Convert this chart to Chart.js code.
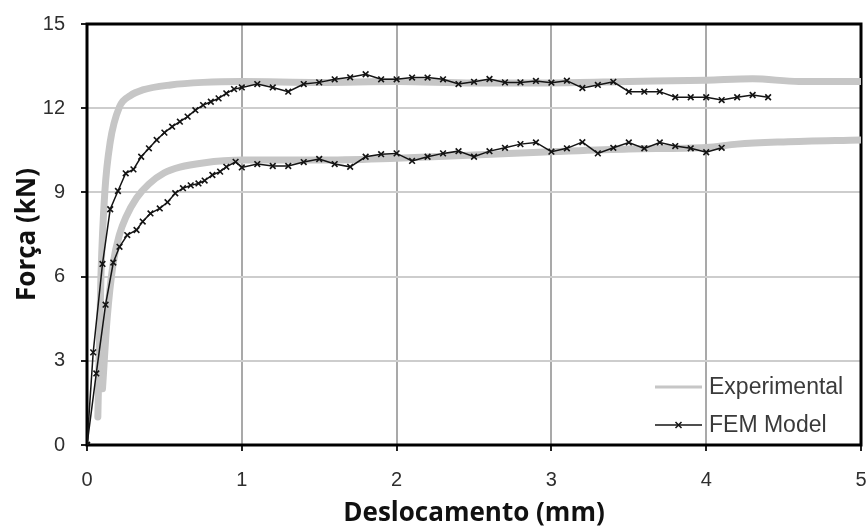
<!DOCTYPE html>
<html>
<head>
<meta charset="utf-8">
<script src="https://cdn.jsdelivr.net/npm/chart.js@4/dist/chart.umd.min.js"></script>
<style>
  html, body { margin: 0; padding: 0; background: #ffffff; }
  #wrap { width: 867px; height: 529px; }
</style>
</head>
<body>
<div id="wrap"><canvas id="c" width="867" height="529"></canvas></div>
<script>
// ---- data ----
const xTicks = [0, 1, 2, 3, 4, 5];
const yTicks = [0, 3, 6, 9, 12, 15];

const femUpperX = [0, 0.04, 0.10, 0.15, 0.20, 0.25, 0.30, 0.35, 0.40, 0.45, 0.50, 0.55, 0.60, 0.65, 0.70, 0.75, 0.80, 0.85, 0.90, 0.95, 1.00,
  1.10, 1.20, 1.30, 1.40, 1.50, 1.60, 1.70, 1.80, 1.90, 2.00, 2.10, 2.20, 2.30, 2.40, 2.50, 2.60, 2.70, 2.80, 2.90, 3.00,
  3.10, 3.20, 3.30, 3.40, 3.50, 3.60, 3.70, 3.80, 3.90, 4.00, 4.10, 4.20, 4.30, 4.40];
const femUpperY = [0, 3.30, 6.45, 8.40, 9.05, 9.68, 9.82, 10.27, 10.57, 10.87, 11.13, 11.34, 11.52, 11.70, 11.93, 12.11, 12.23, 12.35, 12.53, 12.68, 12.74,
  12.86, 12.74, 12.59, 12.86, 12.92, 13.03, 13.10, 13.21, 13.03, 13.03, 13.09, 13.09, 13.03, 12.86, 12.94, 13.04, 12.92, 12.92, 12.97, 12.91,
  12.98, 12.72, 12.83, 12.94, 12.59, 12.59, 12.59, 12.39, 12.39, 12.39, 12.29, 12.39, 12.47, 12.39];

const femLowerX = [0, 0.06, 0.12, 0.17, 0.21, 0.26, 0.32, 0.36, 0.41, 0.47, 0.52, 0.57, 0.62, 0.67, 0.72, 0.76, 0.81, 0.86, 0.90, 0.96, 1.00,
  1.10, 1.20, 1.30, 1.40, 1.50, 1.60, 1.70, 1.80, 1.90, 2.00, 2.10, 2.20, 2.30, 2.40, 2.50, 2.60, 2.70, 2.80, 2.90, 3.00,
  3.10, 3.20, 3.30, 3.40, 3.50, 3.60, 3.70, 3.80, 3.90, 4.00, 4.10];
const femLowerY = [0, 2.55, 5.00, 6.50, 7.06, 7.48, 7.66, 7.96, 8.25, 8.43, 8.65, 8.97, 9.15, 9.25, 9.32, 9.42, 9.62, 9.74, 9.91, 10.09, 9.89,
  10.01, 9.94, 9.94, 10.08, 10.19, 10.01, 9.91, 10.27, 10.36, 10.39, 10.12, 10.27, 10.39, 10.47, 10.27, 10.47, 10.59, 10.72, 10.78, 10.45,
  10.57, 10.79, 10.39, 10.59, 10.78, 10.57, 10.78, 10.65, 10.57, 10.43, 10.59];

const expUpperX = [0.07, 0.09, 0.115, 0.15, 0.21, 0.28, 0.36, 0.54, 0.75, 1.00, 1.50, 2.00, 2.50, 3.00, 3.50, 4.00, 4.30, 4.60, 5.00];
const expUpperY = [1.0, 6.0, 9.0, 10.8, 12.05, 12.45, 12.65, 12.83, 12.92, 12.95, 12.92, 12.95, 12.9, 12.9, 12.95, 13.0, 13.05, 12.95, 12.95];

const expLowerX = [0.10, 0.13, 0.17, 0.21, 0.25, 0.32, 0.40, 0.50, 0.60, 0.75, 1.00, 1.50, 2.00, 2.50, 3.00, 3.50, 4.00, 4.20, 4.50, 5.00];
const expLowerY = [2.0, 4.5, 6.5, 7.5, 8.1, 8.8, 9.3, 9.7, 9.9, 10.05, 10.15, 10.15, 10.22, 10.33, 10.45, 10.55, 10.6, 10.72, 10.8, 10.87];

const seriesLabels = ['Experimental', 'FEM Model'];

function pts(xs, ys) { return xs.map((x, i) => ({ x: x, y: ys[i] })); }

const EXP_COLOR = '#c6c6c6';
const FEM_COLOR = '#141414';

const expStyle = {
  label: seriesLabels[0], borderColor: EXP_COLOR, backgroundColor: EXP_COLOR,
  borderWidth: 7, pointRadius: 0, tension: 0.4, cubicInterpolationMode: 'monotone',
  fill: false, order: 2, borderCapStyle: 'round', borderJoinStyle: 'round'
};
const femStyle = {
  label: seriesLabels[1], borderColor: FEM_COLOR, backgroundColor: FEM_COLOR,
  borderWidth: 1.5, pointStyle: 'crossRot', pointRadius: 4, pointBorderWidth: 1.6,
  pointBorderColor: FEM_COLOR, tension: 0, fill: false, order: 1
};

const frameAndLegend = {
  id: 'frameAndLegend',
  beforeDatasetsDraw(chart) {
    const { ctx, chartArea: a } = chart;
    ctx.save();
    ctx.strokeStyle = '#000';
    ctx.lineWidth = 3;
    ctx.strokeRect(a.left, a.top, a.right - a.left, a.bottom - a.top);
    ctx.restore();
  },
  afterDraw(chart) {
    const { ctx } = chart;
    const seen = [];
    chart.data.datasets.forEach(ds => { if (!seen.find(s => s.label === ds.label)) seen.push(ds); });
    const ordered = seriesLabels.map(l => seen.find(s => s.label === l));
    const lx0 = 655, lx1 = 702, tx = 709;
    const rows = [387, 425];
    ctx.save();
    ordered.forEach((ds, i) => {
      const y = rows[i];
      ctx.beginPath();
      ctx.strokeStyle = ds.borderColor;
      ctx.lineWidth = ds.label === 'Experimental' ? 3 : 1.5;
      ctx.moveTo(lx0, y); ctx.lineTo(lx1, y); ctx.stroke();
      if (ds.pointStyle) {
        const cx = (lx0 + lx1) / 2, r = 3;
        ctx.beginPath();
        ctx.lineWidth = 1.5;
        ctx.moveTo(cx - r, y - r); ctx.lineTo(cx + r, y + r);
        ctx.moveTo(cx - r, y + r); ctx.lineTo(cx + r, y - r);
        ctx.stroke();
      }
      ctx.fillStyle = '#3a3a3a';
      ctx.font = '23px "Liberation Sans", Arial, sans-serif';
      ctx.textBaseline = 'middle';
      ctx.textAlign = 'left';
      ctx.fillText(ds.label, tx, y + 1);
    });
    ctx.restore();
  }
};

new Chart(document.getElementById('c'), {
  type: 'line',
  data: {
    datasets: [
      Object.assign({ data: pts(femUpperX, femUpperY) }, femStyle),
      Object.assign({ data: pts(femLowerX, femLowerY) }, femStyle),
      Object.assign({ data: pts(expUpperX, expUpperY) }, expStyle),
      Object.assign({ data: pts(expLowerX, expLowerY) }, expStyle)
    ]
  },
  options: {
    responsive: false,
    animation: false,
    events: [],
    layout: { padding: { top: 24, right: 6, left: 0, bottom: 0 } },
    plugins: { legend: { display: false }, tooltip: { enabled: false } },
    scales: {
      x: {
        type: 'linear', min: 0, max: 5,
        afterBuildTicks(s) { s.ticks = xTicks.map(v => ({ value: v })); },
        afterFit(s) { s.height = 84; s.paddingLeft = 0; s.paddingRight = 0; },
        border: { display: false },
        grid: {
          color: (c) => (c.tick && (c.tick.value === 0 || c.tick.value === 5)) ? 'rgba(0,0,0,0)' : '#a9a9a9',
          lineWidth: 2, tickLength: 6, tickColor: '#222', drawTicks: true
        },
        ticks: {
          padding: 17, color: '#2e2e2e',
          font: { family: '"Liberation Sans", Arial, sans-serif', size: 20 },
          maxRotation: 0, autoSkip: false
        },
        title: {
          display: true, text: 'Deslocamento (mm)', color: '#111',
          font: { family: '"Open Sans", sans-serif', size: 26, weight: 'bold', lineHeight: 1.2 },
          padding: { top: 0, bottom: 0 }
        }
      },
      y: {
        type: 'linear', min: 0, max: 15,
        afterBuildTicks(s) { s.ticks = yTicks.map(v => ({ value: v })); },
        afterFit(s) { s.width = 87; s.paddingTop = 0; s.paddingBottom = 0; },
        border: { display: false },
        grid: {
          color: (c) => (c.tick && (c.tick.value === 0 || c.tick.value === 15)) ? 'rgba(0,0,0,0)' : '#cdcdcd',
          lineWidth: 2, tickLength: 6, tickColor: '#222', drawTicks: true
        },
        ticks: {
          padding: 16, color: '#2e2e2e',
          font: { family: '"Liberation Sans", Arial, sans-serif', size: 20 }
        },
        title: {
          display: true, text: 'Força (kN)', color: '#111',
          font: { family: '"Open Sans", sans-serif', size: 26, weight: 'bold', lineHeight: 1.2 },
          padding: { top: 12, bottom: 0 }
        }
      }
    }
  },
  plugins: [frameAndLegend]
});
</script>
</body>
</html>
